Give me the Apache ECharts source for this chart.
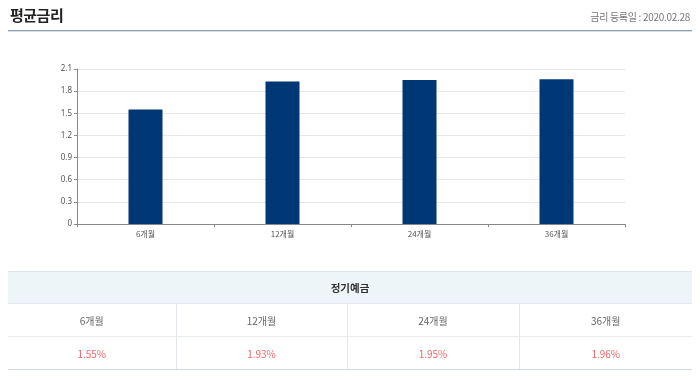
<!DOCTYPE html>
<html><head><meta charset="utf-8">
<script src="https://cdn.jsdelivr.net/npm/echarts@6/dist/echarts.min.js"></script>
<style>
html,body{margin:0;padding:0;background:#fff;width:700px;height:385px;overflow:hidden;font-family:"Noto Sans CJK KR","Noto Sans",sans-serif;}
#chart{position:absolute;left:0;top:0;width:700px;height:385px;}
.title{position:absolute;left:10px;top:4px;font-size:15px;font-weight:bold;color:#222;letter-spacing:-0.5px;}
.date{position:absolute;right:10px;top:9px;font-size:10px;color:#777;letter-spacing:-0.3px;}
.hline{position:absolute;left:8px;width:684px;top:30px;height:1px;background:#8fa0b8;border-bottom:1px solid #d6dde6;}
table{position:absolute;left:8px;top:271px;width:684px;border-collapse:collapse;font-size:10px;table-layout:fixed;}
td,th{text-align:center;height:31px;padding:0;}
th{background:#eef5f8;color:#333;font-weight:bold;font-size:10.5px;border-top:1px solid #dde6ec;border-bottom:1px solid #e3e9ee;}
tr.lab td{color:#666;border-bottom:1px solid #e8ecef;height:32px;}
tr.val td{color:#f0666a;border-bottom:1px solid #cfd9e2;height:32px;}
td+td{border-left:1px solid #e3e8ec;}
</style></head>
<body>
<div id="chart"></div>
<div class="title">평균금리</div>
<div class="date">금리 등록일 : 2020.02.28</div>
<div class="hline"></div>
<table id="tbl"><colgroup><col style="width:168px"><col style="width:171px"><col style="width:172px"><col style="width:173px"></colgroup></table>
<script>
const titleText = '정기예금';
const categories = ['6개월','12개월','24개월','36개월'];
const rates = [1.55, 1.93, 1.95, 1.96];
const yTicks = [0,0.3,0.6,0.9,1.2,1.5,1.8,2.1];

// table
const tbl = document.getElementById('tbl');
let html = '<tr><th colspan="' + categories.length + '">' + titleText + '</th></tr>';
html += '<tr class="lab">' + categories.map(c => '<td>' + c + '</td>').join('') + '</tr>';
html += '<tr class="val">' + rates.map(r => '<td>' + r.toFixed(2) + '%</td>').join('') + '</tr>';
tbl.insertAdjacentHTML('beforeend', '<tbody>' + html + '</tbody>');

const chart = echarts.init(document.getElementById('chart'));
chart.setOption({
  animation:false,
  grid:{left:77,right:75,top:69,bottom:161,containLabel:false},
  xAxis:{
    type:'category',data:categories,
    axisLine:{lineStyle:{color:'#888',width:1}},
    axisTick:{show:true,length:3,lineStyle:{color:'#888'}},
    axisLabel:{color:'#555',fontSize:8,margin:6,fontFamily:'Noto Sans CJK KR'}
  },
  yAxis:{
    type:'value',min:yTicks[0],max:yTicks[yTicks.length-1],interval:0.3,
    axisLine:{show:true,lineStyle:{color:'#888'}},
    axisTick:{show:true,length:3,lineStyle:{color:'#888'}},
    axisLabel:{color:'#555',fontSize:8,margin:5,fontFamily:'Noto Sans',formatter:v=>String(Math.round(v*10)/10)},
    splitLine:{lineStyle:{color:'#e6e6e6'}}
  },
  series:[{type:'bar',data:rates,barWidth:34,itemStyle:{color:'#003876'}}]
});
</script>
</body></html>
